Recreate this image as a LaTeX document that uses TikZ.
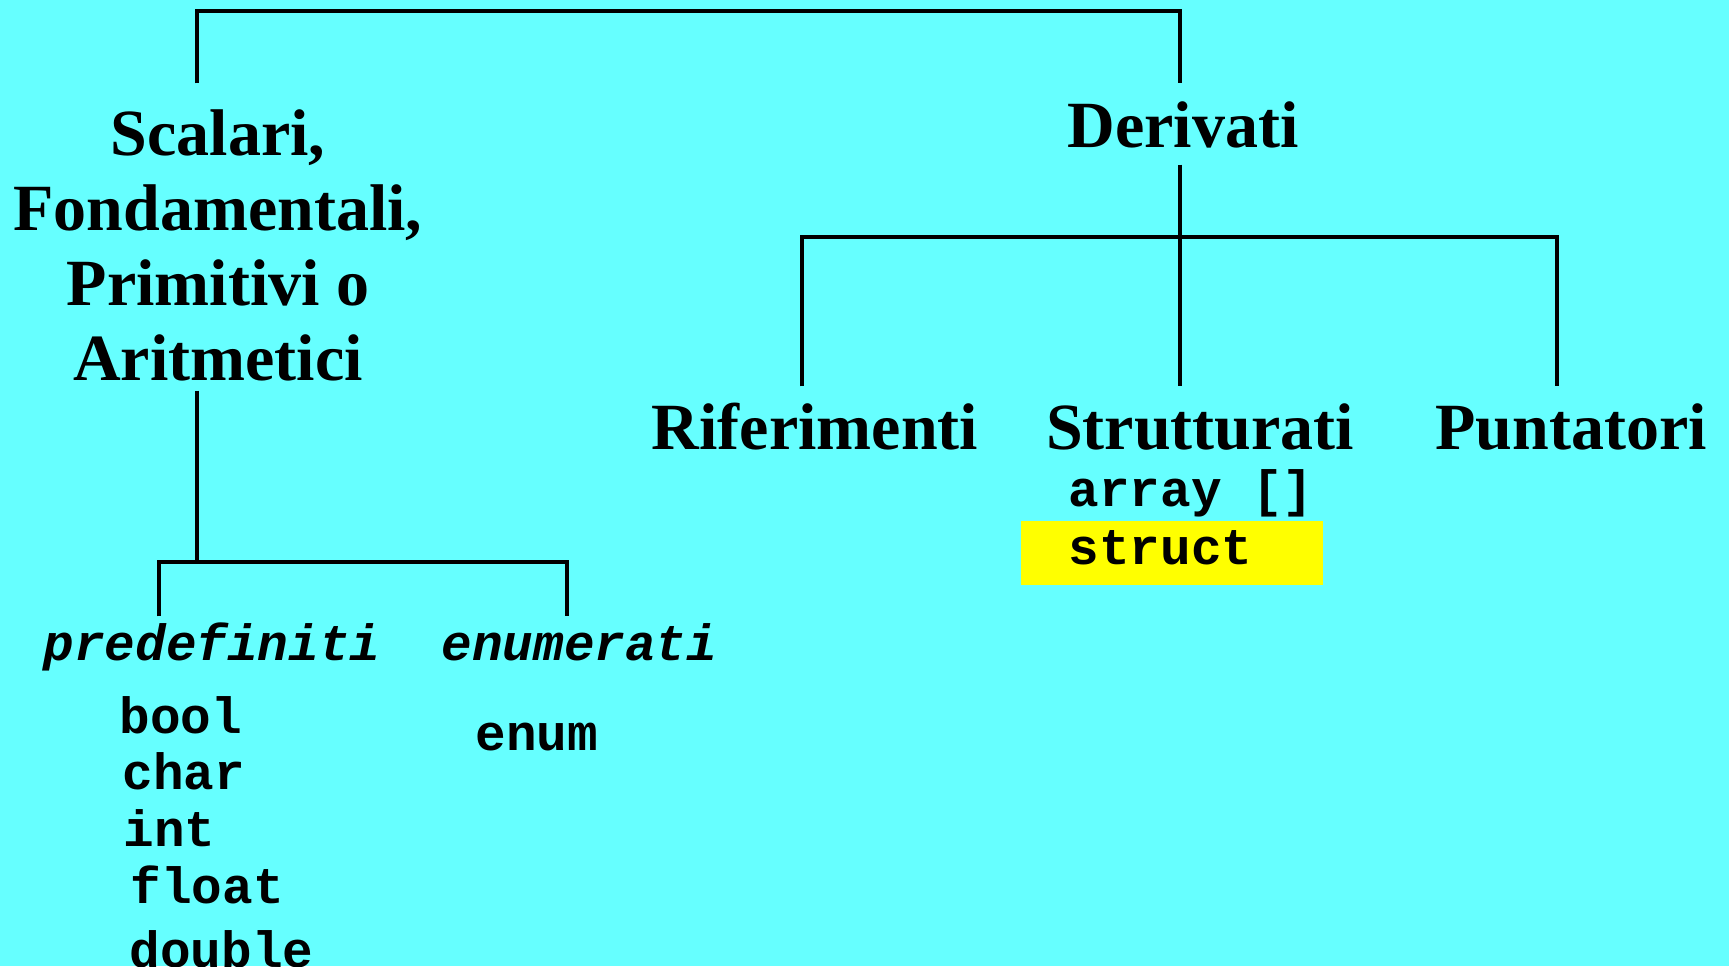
\documentclass[tikz,border=0pt]{standalone}
\usepackage{fontspec}
\setmainfont{Liberation Serif}
\setmonofont{Liberation Mono}
\definecolor{sfondo}{RGB}{102,255,255}
\definecolor{evid}{RGB}{255,255,0}
\begin{document}
\begin{tikzpicture}[x=0.5pt,y=-0.5pt,line width=1.7pt,
	titolo/.style={inner sep=0pt,anchor=base,font=\fontsize{33}{37.5}\selectfont\bfseries},
	tipo/.style={inner sep=0pt,anchor=base west,font=\fontsize{25.5}{30}\selectfont\ttfamily\bfseries},
	categ/.style={tipo,font=\fontsize{25.5}{30}\selectfont\ttfamily\bfseries\itshape,text height=21pt}]
	\fill[sfondo] (0,0) rectangle (1729,966);
	\useasboundingbox (0,0) rectangle (1729,966);
	\node[titolo,align=center,text height=147.5pt,text depth=4.5pt] (scal) at (218,380) {Scalari,\\Fondamentali,\\Primitivi o\\Aritmetici};
	\node[titolo,text height=31pt,text depth=8pt] (der) at (1183,147) {Derivati};
	\node[titolo,text height=30.5pt] (rif) at (815,449) {Riferimenti};
	\node[titolo,text height=30.5pt] (str) at (1200,449) {Strutturati};
	\node[titolo,text height=30.5pt] (pun) at (1571,449) {Puntatori};
	\fill[evid] (1021,521) rectangle (1323,585);
	\node[tipo] (arr) at (1067,506) {array []};
	\node[tipo] (stc) at (1067,564) {struct};
	\node[categ] (pre) at (42,660) {predefiniti};
	\node[categ] (enu) at (440,660) {enumerati};
	\node[tipo] (bool) at (118,733) {bool};
	\node[tipo] (char) at (121,789) {char};
	\node[tipo] (int) at (122,846) {int};
	\node[tipo] (flo) at (129,903) {float};
	\node[tipo] (dou) at (128,967) {double};
	\node[tipo] (enm) at (474,750) {enum};
	\coordinate (topL) at (197,11);
	\coordinate (topR) at (1180,11);
	\coordinate (barL) at (802,237);
	\coordinate (barR) at (1557,237);
	\coordinate (subL) at (159,562);
	\coordinate (subR) at (567,562);
	\draw (scal.north -| topL) -- (topL) -- (topR) -- (der.north -| topR);
	\draw (der.south -| topR) -- (str.north -| topR);
	\draw (rif.north -| barL) -- (barL) -- (barR) -- (pun.north -| barR);
	\draw (scal.south -| topL) -- (subL -| topL);
	\draw (pre.north -| subL) -- (subL) -- (subR) -- (enu.north -| subR);
\end{tikzpicture}
\end{document}
